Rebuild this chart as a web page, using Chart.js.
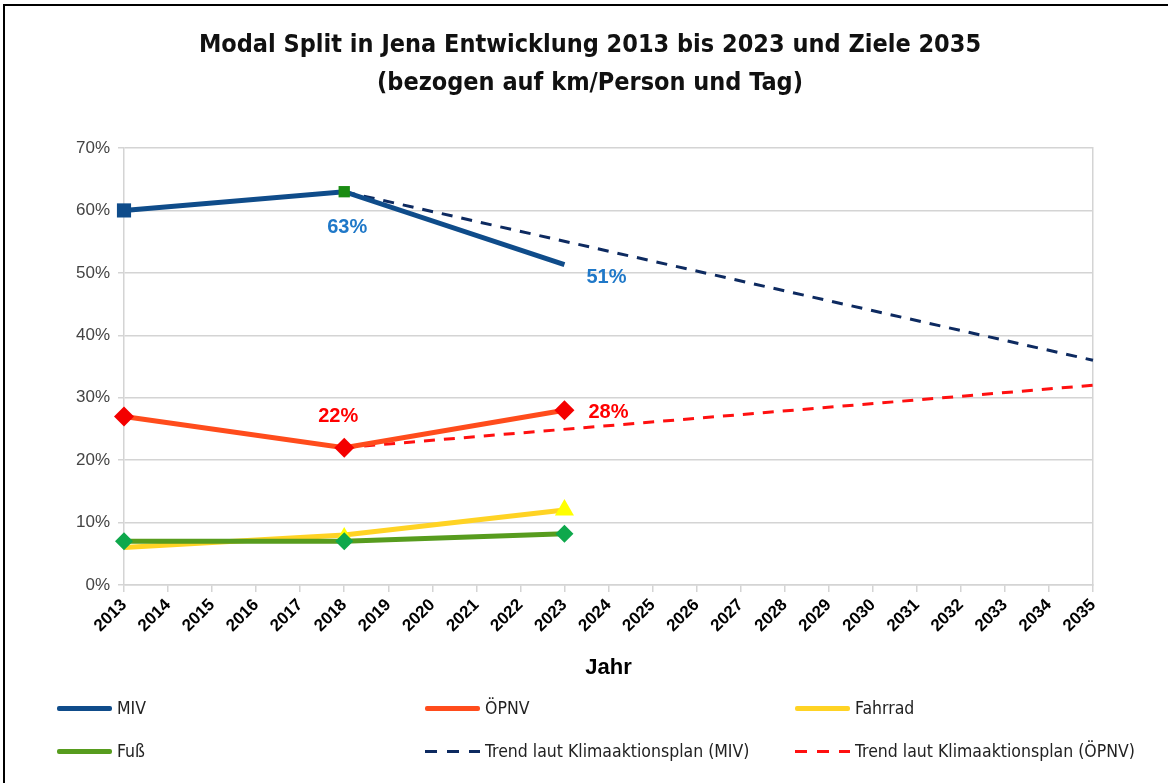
<!DOCTYPE html>
<html lang="de">
<head>
<meta charset="utf-8">
<title>Modal Split Jena</title>
<script src="https://cdn.jsdelivr.net/npm/chart.js@4.4.1/dist/chart.umd.min.js"></script>
<style>
  html, body { margin: 0; padding: 0; background: #fff; overflow: hidden; }
  #wrap { position: relative; width: 1168px; height: 783px; overflow: hidden; }
  .rahmen { position: absolute; background: #000; pointer-events: none; }
  #rahmenOben { left: 3px; top: 4px; width: 1165px; height: 2px; }
  #rahmenLinks { left: 3px; top: 4px; width: 2px; height: 779px; }
  #titel { position: absolute; left: 0; width: 1180px; top: 25px; text-align: center;
    font-family: "Liberation Sans Narrow", "DejaVu Sans Condensed", "Liberation Sans", sans-serif;
    font-stretch: condensed; font-weight: bold; font-size: 25px; line-height: 38px; color: #111; }
  #legende { position: absolute; left: 0; top: 690px; width: 1168px; height: 90px;
    font-family: "Liberation Sans Narrow", "DejaVu Sans Condensed", "Liberation Sans", sans-serif;
    font-stretch: condensed; font-size: 17.5px; color: #222; }
  .leg-item { position: absolute; display: flex; align-items: center; height: 20px; white-space: nowrap; }
  .leg-linie { width: 55px; height: 5px; margin-right: 5px; border-radius: 2px; }
  .leg-linie--dash { height: 3px; border-radius: 0; }
  canvas { position: absolute; left: 0; top: 0; }
</style>
</head>
<body>
<div id="wrap">
  <canvas id="grafik" width="1168" height="783"></canvas>
  <div id="titel">Modal Split in Jena Entwicklung 2013 bis 2023 und Ziele 2035<br>(bezogen auf km/Person und Tag)</div>
  <div id="legende"></div>
  <div class="rahmen" id="rahmenOben"></div>
  <div class="rahmen" id="rahmenLinks"></div>
</div>
<script>
  // Erhebungsjahre
  const jahre = [2013, 2018, 2023];
  // Anteile in %
  const miv = [60, 63, 51.3];
  const oepnv = [27, 22, 28];
  const fahrrad = [6, 8, 12];
  const fuss = [7, 7, 8.2];

  // Trend laut Klimaaktionsplan (Start 2018, Ziel 2035)
  const trendJahre = [2018, 2035];
  const trendMiv = [63, 36];
  const trendOepnv = [22, 32];

  const yTicks = [0, 10, 20, 30, 40, 50, 60, 70];
  const xMin = 2013;
  const xMax = 2035;

  // Beschriftungen an Punkten: [Datensatz, Punkt, Text]
  const wertLabels = [
    ["MIV", 1, "63%"],
    ["MIV", 2, "51%"],
    ["ÖPNV", 1, "22%"],
    ["ÖPNV", 2, "28%"],
  ];

  function punkte(xs, ys) {
    return xs.map((x, i) => ({ x: x, y: ys[i] }));
  }

  const labelStil = {
    "MIV": { farbe: "#1f78c8", dx: [0, 3, 42], dy: [0, 36, 13] },
    "ÖPNV": { farbe: "#ff0000", dx: [0, -6, 44], dy: [0, -31, 2] },
  };

  const wertLabelPlugin = {
    id: "wertLabels",
    afterDatasetsDraw(chart) {
      const ctx = chart.ctx;
      ctx.save();
      ctx.font = "bold 20px 'Liberation Sans', Arial, sans-serif";
      ctx.textAlign = "center";
      ctx.textBaseline = "middle";
      wertLabels.forEach(([name, idx, text]) => {
        const dsIndex = chart.data.datasets.findIndex((d) => d.label === name);
        const el = chart.getDatasetMeta(dsIndex).data[idx];
        const st = labelStil[name];
        ctx.fillStyle = st.farbe;
        ctx.fillText(text, el.x + st.dx[idx], el.y + st.dy[idx]);
      });
      ctx.restore();
    },
  };

  const datasets = [
    {
      label: "MIV",
      data: punkte(jahre, miv),
      borderColor: "#0f4c8a",
      borderWidth: 5,
      pointStyle: "rect",
      pointRadius: [10, 8, 0],
      pointBackgroundColor: ["#0f4c8a", "#1a8c12", "#0f4c8a"],
      pointBorderColor: ["#0f4c8a", "#1a8c12", "#0f4c8a"],
      pointBorderWidth: 0,
      clip: false,
      order: 1,
    },
    {
      label: "ÖPNV",
      data: punkte(jahre, oepnv),
      borderColor: "#ff4c1c",
      borderWidth: 5,
      pointStyle: "rectRot",
      pointRadius: 10,
      pointBackgroundColor: "#f40000",
      pointBorderWidth: 0,
      clip: false,
      order: 2,
    },
    {
      label: "Fahrrad",
      data: punkte(jahre, fahrrad),
      borderColor: "#ffd324",
      borderWidth: 5,
      pointStyle: "triangle",
      pointRadius: [0, 8, 11],
      pointBackgroundColor: "#ffff00",
      pointBorderWidth: 0,
      clip: false,
      order: 4,
    },
    {
      label: "Fuß",
      data: punkte(jahre, fuss),
      borderColor: "#579c1e",
      borderWidth: 5,
      pointStyle: "rectRot",
      pointRadius: 9,
      pointBackgroundColor: "#0ea84c",
      pointBorderWidth: 0,
      clip: false,
      order: 3,
    },
    {
      label: "Trend laut Klimaaktionsplan (MIV)",
      data: punkte(trendJahre, trendMiv),
      borderColor: "#0d2a60",
      borderWidth: 3,
      borderDash: [11, 9],
      pointRadius: 0,
      clip: false,
      order: 5,
    },
    {
      label: "Trend laut Klimaaktionsplan (ÖPNV)",
      data: punkte(trendJahre, trendOepnv),
      borderColor: "#ff1010",
      borderWidth: 3,
      borderDash: [11, 9],
      pointRadius: 0,
      clip: false,
      order: 6,
    },
  ];

  function renderLegende() {
    const el = document.getElementById("legende");
    const spalten = [57, 425, 795];
    const zeilen = [8, 51];
    el.innerHTML = datasets
      .map((d, i) => {
        const x = spalten[i % 3];
        const y = zeilen[Math.floor(i / 3)];
        const dash = d.borderDash
          ? `background: repeating-linear-gradient(90deg, ${d.borderColor} 0 12px, transparent 12px 22px);`
          : `background: ${d.borderColor};`;
        const cls = d.borderDash ? "leg-linie leg-linie--dash" : "leg-linie";
        return `<div class="leg-item" style="left:${x}px; top:${y}px;">
            <span class="${cls}" style="${dash}"></span><span>${d.label}</span>
          </div>`;
      })
      .join("");
  }

  const gitter = "#d4d4d4";

  new Chart(document.getElementById("grafik").getContext("2d"), {
    type: "line",
    data: { datasets: datasets },
    plugins: [wertLabelPlugin],
    options: {
      responsive: false,
      animation: false,
      layout: { padding: { left: 10, right: 75, top: 148, bottom: 98 } },
      plugins: {
        legend: { display: false },
        title: { display: false },
        tooltip: { enabled: false },
      },
      scales: {
        x: {
          type: "linear",
          min: xMin,
          max: xMax,
          afterFit: (s) => { s.height = 100; },
          ticks: {
            stepSize: 1,
            autoSkip: false,
            maxRotation: 45,
            minRotation: 45,
            color: "#000",
            padding: 3,
            font: { family: "'Liberation Sans', Arial, sans-serif", size: 17, weight: "bold" },
            callback: (v) => String(v),
          },
          grid: { display: true, drawOnChartArea: false, color: gitter, lineWidth: 1.5, tickLength: 7 },
          border: { color: gitter, width: 1.5 },
          title: {
            display: true,
            text: "Jahr",
            color: "#000",
            font: { family: "'Liberation Sans', Arial, sans-serif", size: 22, weight: "bold" },
            padding: { top: 0, bottom: 4 },
          },
        },
        y: {
          min: 0,
          max: 70,
          afterFit: (s) => { s.width = 114; },
          afterBuildTicks: (s) => { s.ticks = yTicks.map((v) => ({ value: v })); },
          ticks: {
            color: "#444",
            padding: 8,
            font: { family: "'Liberation Sans', Arial, sans-serif", size: 17 },
            callback: (v) => v + "%",
          },
          grid: { color: gitter, lineWidth: 1.5, tickLength: 6 },
          border: { color: gitter, width: 1.5 },
        },
        y2: {
          position: "right",
          min: 0,
          max: 70,
          ticks: { display: false },
          grid: { display: false },
          border: { color: gitter, width: 1.5 },
          afterFit: (s) => { s.width = 0; },
        },
      },
    },
  });

  renderLegende();
</script>
</body>
</html>
